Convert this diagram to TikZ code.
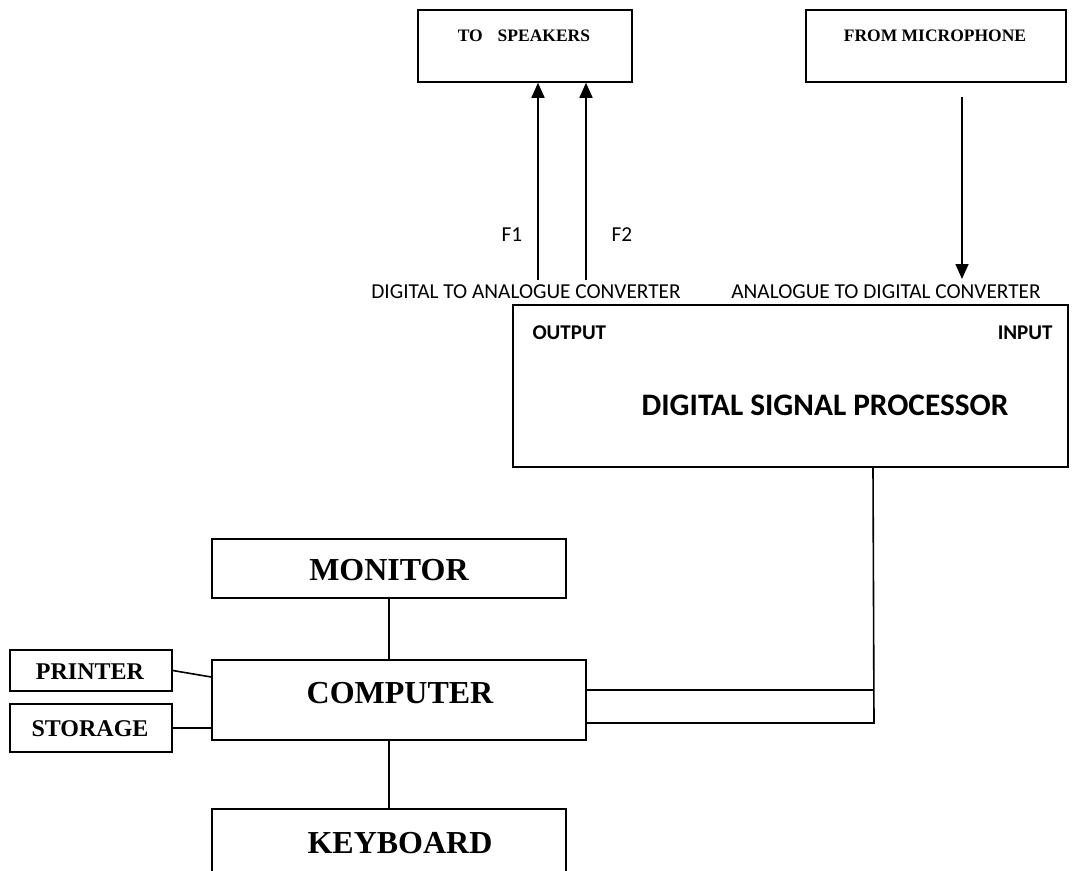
\documentclass[tikz,border=0pt]{standalone}
\usepackage{fontspec}
\setmainfont{Liberation Serif}
\setsansfont{Carlito}
\usetikzlibrary{arrows.meta,positioning,calc}

\begin{document}
\begin{tikzpicture}[x=1pt,y=-1pt,>={Triangle[length=15pt,width=13pt]},
  box/.style={draw,line width=1.5pt,inner sep=0pt},
  wire/.style={line width=1.6pt},
  small/.style={font=\fontsize{17.5}{18}\selectfont\bfseries},
  mid/.style={font=\fontsize{24}{24}\selectfont\bfseries},
  big/.style={font=\fontsize{32}{32}\selectfont\bfseries},
  conv/.style={font=\sffamily\fontsize{21.3}{22}\selectfont},
  head/.style={font=\sffamily\bfseries\fontsize{21}{21}\selectfont},
  dspfont/.style={font=\sffamily\bfseries\fontsize{31.3}{31}\selectfont}]
 \useasboundingbox (0,0) rectangle (1072,871);
 % top boxes
 \node[box,minimum width=214pt,minimum height=72pt] (spk) at (525,46) {};
 \node[small] (spktxt) at (524,36) {TO\hspace{0.85em}SPEAKERS};
 \node[box,minimum width=260pt,minimum height=72pt] (mic) at (936,46) {};
 \node[small] (mictxt) at (935,36) {FROM MICROPHONE};
 % converters
 \node[conv] (dac) at (526,292) {DIGITAL TO ANALOGUE CONVERTER};
 \node[conv] (adc) at (886,292) {ANALOGUE TO DIGITAL CONVERTER};
 \coordinate (f1) at (538,280);
 \coordinate (f2) at (586,280);
 \coordinate (micout) at (962,97);
 \coordinate (adcin) at (962,279);
 \node[conv] (f1txt) at (512,235) {F1};
 \node[conv] (f2txt) at (622,235) {F2};
 \draw[wire,->] (f1) -- (f1 |- spk.south);
 \draw[wire,->] (f2) -- (f2 |- spk.south);
 \draw[wire,->] (micout) -- (adcin);
 % processor
 \node[box,minimum width=555pt,minimum height=162pt] (dsp) at (790.5,386) {};
 \node[head,anchor=west] (out) at (529,333) {OUTPUT};
 \node[head,anchor=east] (in) at (1056,333) {INPUT};
 \node[dspfont] (dsptxt) at (825,405) {DIGITAL SIGNAL PROCESSOR};
 % computer and peripherals
 \node[box,minimum width=354pt,minimum height=59pt] (mon) at (389,568.5) {};
 \node[big] (montxt) at (389,570) {MONITOR};
 \node[box,minimum width=374pt,minimum height=80pt] (comp) at (399,700) {};
 \node[big] (comptxt) at (400,693) {COMPUTER};
 \node[box,minimum width=354pt,minimum height=80pt] (kbd) at (389,849) {};
 \node[big] (kbdtxt) at (400,843) {KEYBOARD};
 \node[box,minimum width=162pt,minimum height=41pt] (prn) at (91,670.5) {};
 \node[mid] (prntxt) at (90,672) {PRINTER};
 \node[box,minimum width=162pt,minimum height=48pt] (sto) at (91,728) {};
 \node[mid] (stotxt) at (90,729) {STORAGE};
 % links
 \coordinate (tap) at (873,690);
 \coordinate (bus) at (874,723);
 \draw[wire] (mon.south) -- (comp.north -| mon.south);
 \draw[wire] (comp.south -| kbd.north) -- (kbd.north);
 \draw[wire] (prn.east) -- ($(comp.west)+(0,-23)$);
 \draw[wire] (sto.east) -- (sto.east -| comp.west);
 \draw[wire] (dsp.south -| tap) -- (bus) -- (comp.east |- bus);
 \draw[wire] (comp.east |- tap) -- (tap);
\end{tikzpicture}
\end{document}
